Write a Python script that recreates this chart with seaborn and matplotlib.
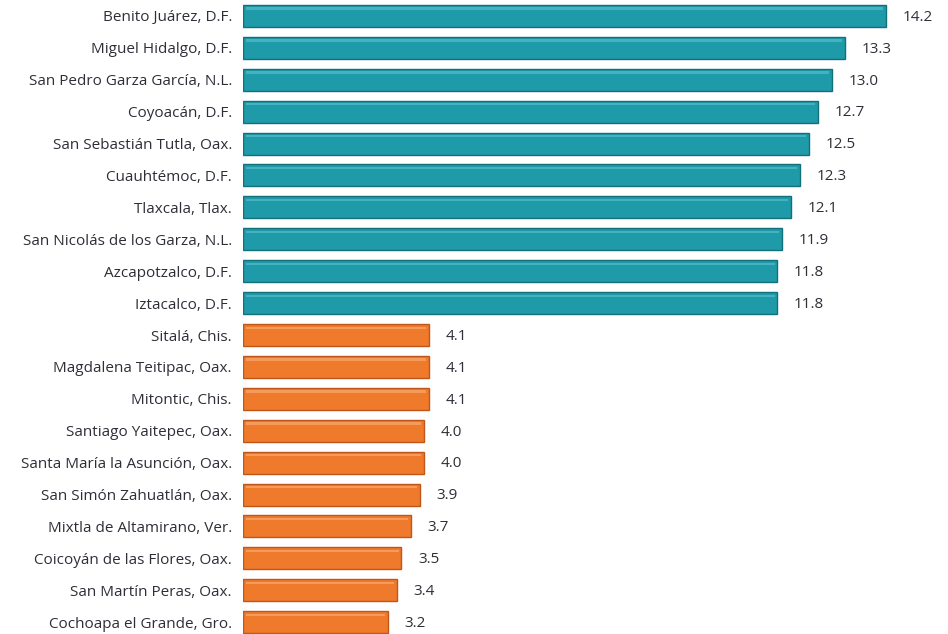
import matplotlib
matplotlib.use("Agg")
import matplotlib.pyplot as plt
import seaborn as sns
import pandas as pd

municipios = [
    "Benito Juárez, D.F.", "Miguel Hidalgo, D.F.", "San Pedro Garza García, N.L.",
    "Coyoacán, D.F.", "San Sebastián Tutla, Oax.", "Cuauhtémoc, D.F.",
    "Tlaxcala, Tlax.", "San Nicolás de los Garza, N.L.", "Azcapotzalco, D.F.",
    "Iztacalco, D.F.", "Sitalá, Chis.", "Magdalena Teitipac, Oax.",
    "Mitontic, Chis.", "Santiago Yaitepec, Oax.", "Santa María la Asunción, Oax.",
    "San Simón Zahuatlán, Oax.", "Mixtla de Altamirano, Ver.",
    "Coicoyán de las Flores, Oax.", "San Martín Peras, Oax.", "Cochoapa el Grande, Gro.",
]
valores = [14.2, 13.3, 13.0, 12.7, 12.5, 12.3, 12.1, 11.9, 11.8, 11.8,
           4.1, 4.1, 4.1, 4.0, 4.0, 3.9, 3.7, 3.5, 3.4, 3.2]
grupo = ["alto"] * 10 + ["bajo"] * 10

df = pd.DataFrame({"municipio": municipios, "valor": valores, "grupo": grupo})

sns.set_theme(style="white")
plt.rcParams["font.family"] = ["Open Sans", "DejaVu Sans"]

fig = plt.figure(figsize=(9.48, 6.34), dpi=100)
ax = fig.add_axes([243 / 948, 0, 1 - 243 / 948, 1])

palette = {"alto": "#1f9aa8", "bajo": "#ef7a2c"}
edges = {"alto": "#13707b", "bajo": "#c2561a"}
sns.barplot(data=df, x="valor", y="municipio", hue="grupo", palette=palette,
            dodge=False, width=0.69, legend=False, ax=ax, saturation=1)

for patch in ax.patches:
    fc = patch.get_facecolor()
    key = "alto" if fc[2] > 0.5 else "bajo"
    patch.set_edgecolor(edges[key])
    patch.set_linewidth(1.0)

# highlight stripe near top of each bar
hl = {"alto": "#5cc4cf", "bajo": "#f9b27a"}
for i, (v, g) in enumerate(zip(valores, grupo)):
    ax.barh(i - 0.23, v - 0.12, left=0.06, height=0.07, color=hl[g], linewidth=0, alpha=0.6)

for i, v in enumerate(valores):
    ax.text(v + 0.37, i + 0.04, f"{v:.1f}", va="center", ha="left", fontsize=11,
            color="#2e2e38")

ax.set_xlim(0, 15.57)
ax.set_ylim(19.37, -0.5)
ax.set_xlabel("")
ax.set_ylabel("")
ax.set_xticks([])
ax.tick_params(axis="y", length=0, pad=8, labelsize=11, labelcolor="#2e2e38")
for s in ax.spines.values():
    s.set_visible(False)

fig.savefig("out.png", dpi=100)
